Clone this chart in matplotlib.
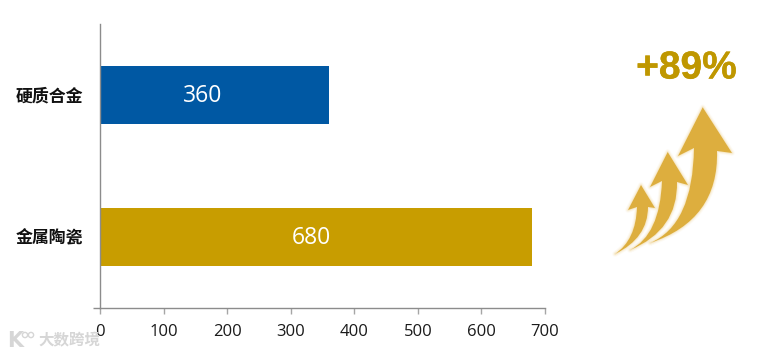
import matplotlib
matplotlib.use("Agg")
import matplotlib.pyplot as plt
import matplotlib.patheffects as pe
from matplotlib.path import Path
from matplotlib.patches import PathPatch, Circle

categories = ["硬质合金", "金属陶瓷"]
values = [360, 680]
bar_colors = ["#0058A3", "#C89D00"]
x_ticks = [0, 100, 200, 300, 400, 500, 600, 700]
headline = "+89%"
watermark = "大数跨境"

W, H = 760, 356
fig = plt.figure(figsize=(W / 100, H / 100), dpi=100, facecolor="white")
ax = fig.add_axes([100 / W, 1 - 307.8 / H, (545 - 100) / W, (307.8 - 24) / H])

y = range(len(categories))
bars = ax.barh(list(y), values, height=0.41, color=bar_colors, linewidth=0)
ax.set_xlim(0, 700)
ax.set_ylim(1.5, -0.5)
ax.set_xticks(x_ticks)
ax.set_yticks(list(y))
ax.set_yticklabels(categories, family=["Noto Sans CJK SC", "DejaVu Sans"],
                   fontsize=12.2, fontweight="bold", color="#111111")
ax.set_yticks([1.5], minor=True)
ax.tick_params(axis="y", which="major", length=0, pad=12)
ax.tick_params(axis="y", which="minor", length=5, width=1, color="#8C8C8C")
ax.tick_params(axis="x", length=4, width=1, color="#A6A6A6", pad=8)
for lab in ax.get_xticklabels():
    lab.set_fontfamily("Open Sans")
    lab.set_fontsize(12)
    lab.set_color("#1A1A1A")
for s in ("top", "right"):
    ax.spines[s].set_visible(False)
for s in ("left", "bottom"):
    ax.spines[s].set_color("#8C8C8C")
    ax.spines[s].set_linewidth(1)

# Labels sit left of the bar centre in the reference, by a different amount on each bar
for b, v, frac in zip(bars, values, (0.45, 0.4885)):
    ax.text(v * frac, b.get_y() + b.get_height() / 2 + 0.005, str(v), color="white",
            ha="center", va="center", family="Open Sans", fontsize=16.5)

# Decoration overlay in pixel coordinates
ov = fig.add_axes([0, 0, 1, 1], facecolor="none")
ov.set_xlim(0, W)
ov.set_ylim(H, 0)
ov.axis("off")


def arrow(tip, hl, hr, sl, sr, tail, cl, cr, z):
    verts = [tip, hr, sr, cr, tail, cl, sl, hl, tip, tip]
    codes = [Path.MOVETO, Path.LINETO, Path.LINETO, Path.CURVE3, Path.CURVE3,
             Path.CURVE3, Path.CURVE3, Path.LINETO, Path.LINETO, Path.CLOSEPOLY]
    p = Path(verts, codes)
    for lw, a in ((4, 0.07), (2.5, 0.12), (1.2, 0.2)):
        ov.add_patch(PathPatch(p, fc="none", ec="#EBC36A", lw=lw, alpha=a, zorder=z, joinstyle="round"))
    ov.add_patch(PathPatch(p, fc="#DDAE3E", ec="none", zorder=z + 0.1))


arrow((641, 185), (628, 210), (655, 208), (637, 207), (648, 207), (615, 254),
      (636, 240), (648, 238), 3)
arrow((667.7, 152), (650, 187), (688, 185), (662, 181), (677, 182), (630, 250),
      (660, 235), (678, 230), 4)
arrow((702.7, 107.3), (678, 156), (732, 153), (694, 148), (717, 151), (650, 243),
      (693, 225), (719, 220), 5)

ov.text(686.5, 68.5, headline, ha="center", va="center", family="Liberation Sans",
        fontweight="bold", fontsize=28, color="#BF9700",
        path_effects=[pe.withStroke(linewidth=0.3, foreground="#BF9700")])

ov.text(69, 340.5, watermark, ha="center", va="center", color="#D6D6D6",
        family=["Noto Sans CJK SC", "DejaVu Sans"], fontsize=11.2, fontweight="bold", zorder=1)
ov.text(15, 341, "K", ha="center", va="center", color="#D6D6D6", family="DejaVu Sans",
        fontsize=15, fontweight="bold", zorder=6)
for cx in (25, 31):
    ov.add_patch(Circle((cx, 335), 2.6, fc="none", ec="#D6D6D6", lw=1, zorder=6))

fig.savefig("out.png", dpi=100, facecolor="white")
